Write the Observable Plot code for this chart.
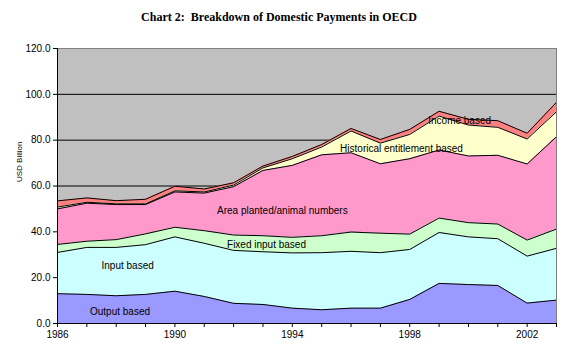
<!DOCTYPE html>
<html>
<head>
<meta charset="utf-8">
<script src="https://cdn.jsdelivr.net/npm/d3@7"></script>
<script src="https://cdn.jsdelivr.net/npm/@observablehq/plot@0.6"></script>
<style>
  html, body { margin: 0; padding: 0; background: #fff; }
  #wrap { position: relative; width: 577px; height: 354px; }
  #title { position: absolute; top: 10px; left: 0; width: 558px; text-align: center;
    font-family: "Liberation Serif", "Times New Roman", serif; font-weight: bold; font-size: 12px; color: #000; }
</style>
</head>
<body>
<div id="wrap"><div id="title">Chart 2:&nbsp; Breakdown of Domestic Payments in OECD</div></div>
<script>
const years = [1986,1987,1988,1989,1990,1991,1992,1993,1994,1995,1996,1997,1998,1999,2000,2001,2002,2003];
const seriesNames = ["Output based","Input based","Fixed input based","Area planted/animal numbers","Historical entitlement based","Income based"];
const seriesColors = ["#9999FF","#CCFFFF","#CCFFCC","#FF99CC","#FFFFCC","#FF8080"];
const outputBased   = [13.0,12.7,12.1,12.7,14.1,11.8, 8.8, 8.3, 6.7, 6.0, 6.7, 6.7,10.5,17.5,17.0,16.6, 8.9,10.2];
const inputBased    = [18.0,20.5,21.1,21.7,23.7,23.2,23.1,23.0,24.1,24.9,24.8,24.2,21.8,22.2,20.8,20.4,20.5,22.6];
const fixedInput    = [ 3.5, 2.7, 3.4, 4.7, 4.2, 5.5, 6.7, 7.0, 6.8, 7.4, 8.4, 8.5, 6.7, 6.3, 6.2, 6.4, 7.0, 8.4];
const areaPlanted   = [15.5,16.6,15.3,12.8,15.4,16.4,21.1,28.5,31.4,35.3,34.6,30.3,32.9,29.7,29.1,30.0,33.2,40.3];
const historical    = [ 0.8, 0.4, 0.3, 0.3, 0.5, 0.5, 0.7, 1.1, 2.9, 3.4, 9.5, 9.0,10.6,14.8,13.5,12.2,10.9,10.9];
const incomeBased   = [ 2.7, 1.9, 1.4, 2.0, 2.0, 1.3, 1.0, 0.8, 1.0, 1.1, 1.1, 1.6, 2.2, 2.1, 2.5, 2.9, 2.5, 4.1];
const yTicks = [0,20,40,60,80,100,120];
const xTickLabels = [1986,1990,1994,1998,2002];
const labelText = ["Output based","Input based","Fixed input based","Area planted/animal numbers","Historical entitlement based","Income based"];
const labelYear = [1988.13,1988.39,1993.12,1993.66,1997.72,1999.7];
const labelValue = [5.2,25.3,34.5,49.0,76.3,88.6];

const seriesValues = [outputBased, inputBased, fixedInput, areaPlanted, historical, incomeBased];
const tidy = [];
years.forEach((yr, i) => seriesNames.forEach((s, j) => tidy.push({year: yr, series: s, value: seriesValues[j][i]})));
const labels = labelText.map((t, i) => ({text: t, year: labelYear[i], value: labelValue[i]}));

const chart = Plot.plot({
  width: 577, height: 354,
  marginLeft: 57, marginRight: 21, marginTop: 48, marginBottom: 31,
  style: {fontFamily: "'Liberation Sans', Arial, sans-serif", fontSize: "10px", background: "transparent"},
  x: {domain: [1986, 2003]},
  y: {domain: [0, 120]},
  color: {domain: seriesNames, range: seriesColors},
  marks: [
    Plot.frame({fill: "#C0C0C0", stroke: null}),
    Plot.ruleY([20,40,60,80,100], {stroke: "#000", strokeWidth: 1}),
    Plot.areaY(tidy, {x: "year", y: "value", z: "series", fill: "series", order: seriesNames}),
    Plot.lineY(tidy, Plot.stackY2({x: "year", y: "value", z: "series", order: seriesNames, stroke: "#000", strokeWidth: 1})),
    Plot.ruleY([120], {stroke: "#808080"}),
    Plot.ruleX([2003], {stroke: "#808080"}),
    Plot.ruleX([1986], {stroke: "#000"}),
    Plot.ruleY([0], {stroke: "#000"}),
    Plot.axisY({ticks: yTicks, tickFormat: d => d.toFixed(1), tickSize: 4, tickPadding: 3, fontSize: 10, label: null}),
    Plot.axisX({ticks: years, tickFormat: d => xTickLabels.includes(d) ? String(d) : "", tickSize: 4, tickPadding: 3, fontSize: 10, label: null}),
    Plot.text(labels, {x: "year", y: "value", text: "text", fontSize: 10, fill: "#000"}),
    Plot.text(["USD Billion"], {frameAnchor: "left", dx: -38, dy: -4, rotate: -90, fontSize: 8, fill: "#000"})
  ]
});
document.getElementById("wrap").prepend(chart);
</script>
</body>
</html>
